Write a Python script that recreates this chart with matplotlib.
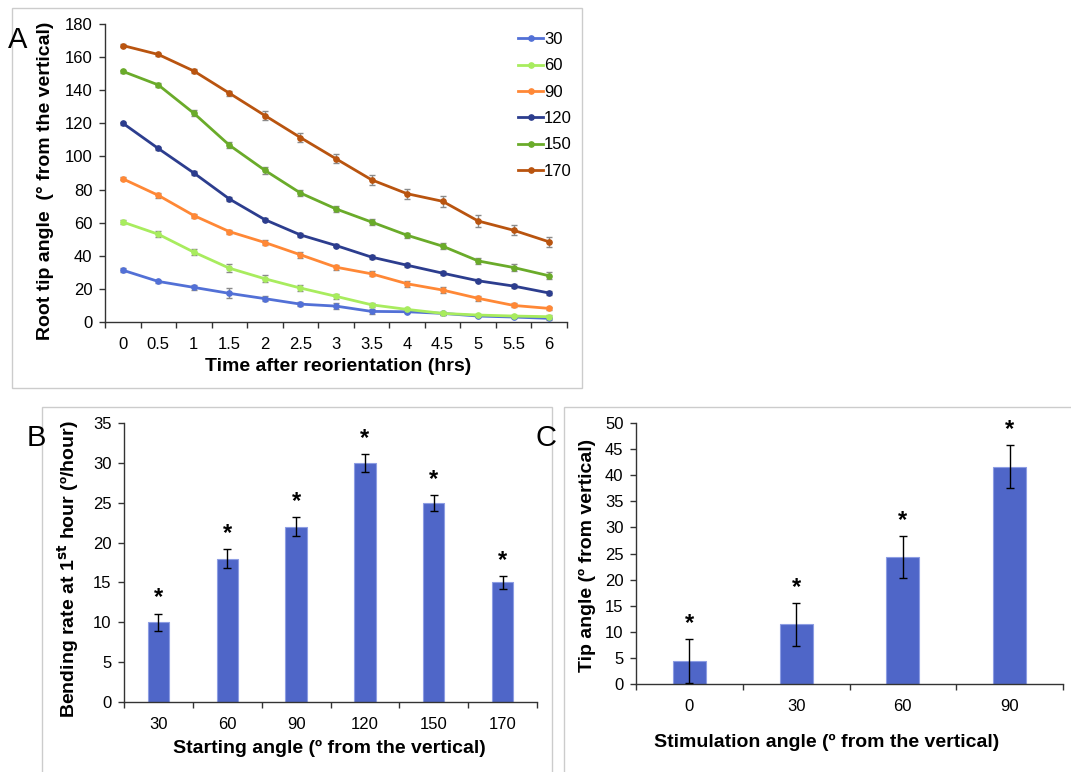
import matplotlib
matplotlib.use("Agg")
import matplotlib.pyplot as plt
import numpy as np
from matplotlib.patches import Rectangle

plt.rcParams['font.family'] = ['Liberation Sans', 'DejaVu Sans']

# ---------------- Panel A data ----------------
times = ['0', '0.5', '1', '1.5', '2', '2.5', '3', '3.5', '4', '4.5', '5', '5.5', '6']
start_angles = ['30', '60', '90', '120', '150', '170']
angle_30 = [31.3, 24.5, 20.9, 17.3, 14.1, 10.8, 9.6, 6.4, 6.2, 5.2, 3.6, 3.0, 2.2]
angle_60 = [60.4, 53.0, 42.2, 32.5, 26.1, 20.5, 15.5, 10.4, 7.6, 5.2, 4.2, 3.6, 3.2]
angle_90 = [86.5, 76.5, 64.3, 54.6, 48.0, 40.6, 33.1, 29.1, 23.1, 19.3, 14.3, 10.0, 8.2]
angle_120 = [120.1, 104.8, 90.0, 74.3, 61.8, 52.6, 46.2, 39.2, 34.3, 29.5, 24.9, 21.7, 17.5]
angle_150 = [151.4, 143.2, 126.1, 106.8, 91.6, 77.9, 68.3, 60.4, 52.4, 45.8, 36.9, 32.9, 27.9]
angle_170 = [167.0, 161.6, 151.6, 138.2, 124.7, 111.4, 98.6, 85.9, 77.5, 72.9, 61.0, 55.4, 48.4]
err_30 = [1.2, 1.0, 1.5, 3.0, 1.5, 1.2, 2.0, 1.5, 1.0, 0.8, 0.8, 0.8, 0.8]
err_60 = [1.5, 1.8, 1.8, 2.5, 2.2, 1.8, 1.5, 1.2, 1.0, 0.8, 0.8, 0.8, 0.8]
err_90 = [1.0, 1.5, 1.2, 1.2, 1.5, 1.8, 1.5, 1.5, 1.8, 1.8, 1.5, 1.2, 1.0]
err_120 = [1.0, 1.0, 1.0, 1.0, 1.0, 1.0, 1.0, 1.0, 1.2, 1.2, 1.0, 1.0, 1.0]
err_150 = [1.0, 1.0, 1.8, 2.0, 2.0, 1.8, 1.8, 1.8, 1.5, 2.0, 2.0, 2.0, 2.0]
err_170 = [1.0, 1.0, 1.2, 1.5, 2.5, 2.8, 2.8, 3.0, 3.0, 3.5, 3.5, 3.0, 3.0]
colors_a = ['#5270d6', '#a8ec5e', '#ff8836', '#2c3d8e', '#6aab2a', '#b9540f']

# ---------------- Panel B data ----------------
b_categories = ['30', '60', '90', '120', '150', '170']
b_rate = [10.0, 18.0, 22.0, 30.0, 25.0, 15.0]
b_err = [1.1, 1.2, 1.2, 1.1, 1.0, 0.8]

# ---------------- Panel C data ----------------
c_categories = ['0', '30', '60', '90']
c_tip = [4.4, 11.4, 24.3, 41.6]
c_err = [4.2, 4.1, 4.05, 4.1]

W, H = 1071, 772
fig = plt.figure(figsize=(W / 100, H / 100), dpi=100)

def ax_px(x0, y0, x1, y1):
    return fig.add_axes([x0 / W, 1 - y1 / H, (x1 - x0) / W, (y1 - y0) / H])

def box_px(x0, y0, x1, y1):
    fig.add_artist(Rectangle((x0 / W, 1 - y1 / H), (x1 - x0) / W, (y1 - y0) / H,
                             transform=fig.transFigure, fill=False,
                             edgecolor='#cccccc', lw=1.0))

box_px(12, 8, 582, 388)
box_px(42, 407, 552, 790)
box_px(564, 407, 1090, 790)

TICK_FS = 12
TITLE_FS = 14
AX_COLOR = '#333333'

def style_axes(ax):
    for s in ['top', 'right']:
        ax.spines[s].set_visible(False)
    for s in ['left', 'bottom']:
        ax.spines[s].set_color(AX_COLOR)
        ax.spines[s].set_linewidth(1.0)
    ax.tick_params(axis='y', direction='out', length=4.5, width=1.0, color=AX_COLOR,
                   labelsize=TICK_FS, pad=4.5)
    ax.tick_params(axis='x', which='major', direction='out', length=4.5, width=1.0,
                   color=AX_COLOR, labelbottom=False)
    ax.tick_params(axis='x', which='minor', length=0, labelsize=TICK_FS, pad=10.5)

# ---------------- Panel A ----------------
axA = ax_px(105, 24, 567, 322)
xa = np.arange(len(times))
series = [angle_30, angle_60, angle_90, angle_120, angle_150, angle_170]
errs = [err_30, err_60, err_90, err_120, err_150, err_170]
handles = []
for vals, e, col, lab in zip(series, errs, colors_a, start_angles):
    axA.errorbar(xa, vals, yerr=e, fmt='none', ecolor='#8a8a8a', elinewidth=1.0,
                 capsize=2.5, capthick=1.0, zorder=2)
    ln, = axA.plot(xa, vals, color=col, lw=2.0, marker='o', markersize=3.8,
                   label=lab, zorder=3)
    handles.append(ln)
axA.set_xlim(-0.5, len(times) - 0.5)
axA.set_ylim(0, 180)
axA.set_yticks(np.arange(0, 181, 20))
axA.set_xticks(np.arange(-0.5, len(times), 1.0))
axA.set_xticks(xa, minor=True)
axA.set_xticklabels(times, minor=True)
style_axes(axA)
axA.set_xlabel('Time after reorientation (hrs)', fontsize=TITLE_FS, fontweight='bold')
axA.xaxis.set_label_coords((338 - 105) / 462, (322 - 367) / 298)
axA.xaxis.label.set_va('center')
axA.set_ylabel('Root tip angle  (° from the vertical)', fontsize=TITLE_FS, fontweight='bold')
axA.yaxis.set_label_coords((45 - 105) / 462, (322 - 181) / 298)
axA.yaxis.label.set_va('center')

fig.legend(handles=handles, loc='upper left', bbox_to_anchor=(518 / W, 1 - 32 / H),
           frameon=False, fontsize=TICK_FS, handlelength=1.5, handletextpad=0.05,
           labelspacing=0.68, borderpad=0, borderaxespad=0)

# ---------------- Panel B ----------------
BAR_COLOR = '#4f66c8'
BAR_EDGE = '#8d9de3'

def bar_panel(ax, cats, vals, errs, ymax, ystep):
    xb = np.arange(len(cats))
    ax.bar(xb, vals, width=0.31, color=BAR_COLOR, edgecolor=BAR_EDGE, linewidth=0.8, zorder=2)
    ax.errorbar(xb, vals, yerr=errs, fmt='none', ecolor='black', elinewidth=1.0,
                capsize=3, capthick=1.0, zorder=3)
    for xi, v, e in zip(xb, vals, errs):
        ax.annotate('*', (xi, v + e), xytext=(0, 3), textcoords='offset points',
                    ha='center', va='bottom', fontsize=17, fontweight='bold', color='black')
    ax.set_xlim(-0.5, len(cats) - 0.5)
    ax.set_ylim(0, ymax)
    ax.set_yticks(np.arange(0, ymax + 0.1, ystep))
    ax.set_xticks(np.arange(-0.5, len(cats), 1.0))
    ax.set_xticks(xb, minor=True)
    ax.set_xticklabels(cats, minor=True)
    style_axes(ax)

axB = ax_px(124, 423, 537, 702)
bar_panel(axB, b_categories, b_rate, b_err, 35, 5)
axB.set_xlabel('Starting angle (º from the vertical)', fontsize=TITLE_FS, fontweight='bold')
axB.xaxis.set_label_coords((329 - 124) / 413, (702 - 748) / 279)
axB.xaxis.label.set_va('center')
axB.set_ylabel('Bending rate at 1$^{\\mathbf{st}}$ hour (º/hour)', fontsize=TITLE_FS,
               fontweight='bold')
axB.yaxis.set_label_coords((68 - 124) / 413, (702 - 569) / 279)
axB.yaxis.label.set_va('center')

# ---------------- Panel C ----------------
axC = ax_px(636, 423, 1063, 684)
bar_panel(axC, c_categories, c_tip, c_err, 50, 5)
axC.set_xlabel('Stimulation angle (º from the vertical)', fontsize=TITLE_FS, fontweight='bold')
axC.xaxis.set_label_coords((827 - 636) / 427, (684 - 742) / 261)
axC.xaxis.label.set_va('center')
axC.set_ylabel('Tip angle (º from vertical)', fontsize=TITLE_FS, fontweight='bold')
axC.yaxis.set_label_coords((587 - 636) / 427, (684 - 555) / 261)
axC.yaxis.label.set_va('center')

# Panel letters
for letter, (px, py) in zip(['A', 'B', 'C'], [(18, 40), (36, 438), (546, 438)]):
    fig.text(px / W, 1 - py / H, letter, fontsize=21, ha='center', va='center')

fig.savefig('out.png', dpi=100)
